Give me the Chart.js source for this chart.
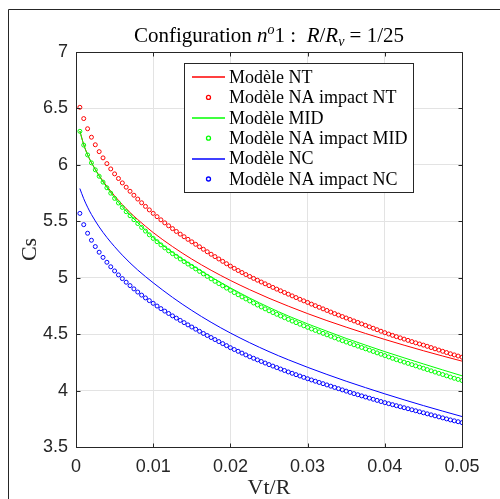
<!DOCTYPE html>
<html>
<head>
<meta charset="utf-8">
<script src="https://cdn.jsdelivr.net/npm/chart.js@4.4.1/dist/chart.umd.min.js"></script>
<style>
  html, body { margin: 0; padding: 0; background: #fff; }
  #wrap { width: 500px; height: 499px; position: relative; }
</style>
</head>
<body>
<div id="wrap"><canvas id="chart" width="500" height="499"></canvas></div>
<script>
// Vt/R sample positions of the impact (marker) series
const markerX = [
  0.0005, 0.0010, 0.0015, 0.0020, 0.0025, 0.0030, 0.0035, 0.0040, 0.0045, 0.0050,
  0.0055, 0.0060, 0.0065, 0.0070, 0.0075, 0.0080, 0.0085, 0.0090, 0.0095, 0.0100,
  0.0105, 0.0110, 0.0115, 0.0120, 0.0125, 0.0130, 0.0135, 0.0140, 0.0145, 0.0150,
  0.0155, 0.0160, 0.0165, 0.0170, 0.0175, 0.0180, 0.0185, 0.0190, 0.0195, 0.0200,
  0.0205, 0.0210, 0.0215, 0.0220, 0.0225, 0.0230, 0.0235, 0.0240, 0.0245, 0.0250,
  0.0255, 0.0260, 0.0265, 0.0270, 0.0275, 0.0280, 0.0285, 0.0290, 0.0295, 0.0300,
  0.0305, 0.0310, 0.0315, 0.0320, 0.0325, 0.0330, 0.0335, 0.0340, 0.0345, 0.0350,
  0.0355, 0.0360, 0.0365, 0.0370, 0.0375, 0.0380, 0.0385, 0.0390, 0.0395, 0.0400,
  0.0405, 0.0410, 0.0415, 0.0420, 0.0425, 0.0430, 0.0435, 0.0440, 0.0445, 0.0450,
  0.0455, 0.0460, 0.0465, 0.0470, 0.0475, 0.0480, 0.0485, 0.0490, 0.0495, 0.0500
];

const impactNT = [
  6.510, 6.410, 6.320, 6.245, 6.178, 6.117, 6.062, 6.011, 5.964, 5.920,
  5.879, 5.840, 5.802, 5.766, 5.731, 5.697, 5.664, 5.632, 5.601, 5.570,
  5.541, 5.513, 5.486, 5.460, 5.435, 5.410, 5.386, 5.363, 5.340, 5.318,
  5.296, 5.274, 5.252, 5.230, 5.208, 5.187, 5.166, 5.145, 5.124, 5.103,
  5.083, 5.064, 5.046, 5.028, 5.011, 4.994, 4.978, 4.962, 4.946, 4.930,
  4.914, 4.899, 4.884, 4.869, 4.854, 4.839, 4.824, 4.809, 4.795, 4.781,
  4.766, 4.752, 4.738, 4.724, 4.710, 4.696, 4.682, 4.669, 4.656, 4.643,
  4.630, 4.617, 4.604, 4.591, 4.578, 4.565, 4.552, 4.539, 4.526, 4.513,
  4.501, 4.489, 4.478, 4.467, 4.456, 4.445, 4.434, 4.423, 4.413, 4.403,
  4.392, 4.381, 4.370, 4.359, 4.348, 4.337, 4.326, 4.316, 4.306, 4.296
];

const impactMID = [
  6.297, 6.175, 6.088, 6.018, 5.956, 5.899, 5.847, 5.797, 5.749, 5.703,
  5.662, 5.623, 5.585, 5.549, 5.514, 5.480, 5.446, 5.413, 5.380, 5.348,
  5.319, 5.291, 5.264, 5.238, 5.213, 5.189, 5.166, 5.143, 5.121, 5.100,
  5.078, 5.056, 5.034, 5.012, 4.990, 4.968, 4.948, 4.928, 4.908, 4.888,
  4.868, 4.849, 4.830, 4.812, 4.794, 4.776, 4.758, 4.741, 4.724, 4.707,
  4.691, 4.676, 4.661, 4.646, 4.631, 4.616, 4.602, 4.588, 4.574, 4.560,
  4.546, 4.533, 4.520, 4.507, 4.494, 4.481, 4.468, 4.455, 4.442, 4.430,
  4.418, 4.406, 4.394, 4.382, 4.370, 4.358, 4.346, 4.334, 4.322, 4.310,
  4.298, 4.286, 4.274, 4.263, 4.252, 4.241, 4.230, 4.219, 4.208, 4.197,
  4.186, 4.175, 4.164, 4.153, 4.142, 4.131, 4.120, 4.109, 4.099, 4.089
];

const impactNC = [
  5.570, 5.470, 5.394, 5.332, 5.276, 5.226, 5.180, 5.137, 5.097, 5.060,
  5.025, 4.992, 4.960, 4.930, 4.901, 4.873, 4.846, 4.821, 4.797, 4.773,
  4.749, 4.726, 4.704, 4.683, 4.662, 4.642, 4.622, 4.602, 4.582, 4.563,
  4.544, 4.525, 4.506, 4.488, 4.470, 4.452, 4.434, 4.416, 4.398, 4.380,
  4.364, 4.348, 4.332, 4.316, 4.300, 4.286, 4.272, 4.258, 4.244, 4.230,
  4.217, 4.204, 4.191, 4.178, 4.165, 4.153, 4.141, 4.129, 4.117, 4.105,
  4.094, 4.083, 4.072, 4.061, 4.050, 4.039, 4.028, 4.017, 4.006, 3.995,
  3.984, 3.973, 3.963, 3.953, 3.943, 3.933, 3.923, 3.913, 3.903, 3.893,
  3.884, 3.875, 3.866, 3.857, 3.848, 3.839, 3.830, 3.821, 3.812, 3.803,
  3.794, 3.785, 3.776, 3.767, 3.758, 3.749, 3.740, 3.732, 3.724, 3.716
];

// Vt/R positions of the continuous model curves
const lineX = [
  0.0005, 0.001, 0.0015, 0.002, 0.003, 0.004, 0.005, 0.006, 0.007, 0.008,
  0.009, 0.010, 0.0125, 0.015, 0.0175, 0.020, 0.0225, 0.025, 0.0275, 0.030,
  0.0325, 0.035, 0.0375, 0.040, 0.0425, 0.045, 0.0475, 0.050
];

const modelNT = [
  6.300, 6.180, 6.090, 6.020, 5.905, 5.810, 5.725, 5.648, 5.578, 5.515,
  5.456, 5.400, 5.276, 5.165, 5.066, 4.976, 4.894, 4.818, 4.748, 4.682,
  4.620, 4.562, 4.506, 4.453, 4.402, 4.353, 4.306, 4.261
];

const modelMID = [
  6.300, 6.178, 6.090, 6.020, 5.900, 5.800, 5.708, 5.628, 5.555, 5.487,
  5.421, 5.357, 5.225, 5.112, 5.007, 4.910, 4.820, 4.737, 4.661, 4.591,
  4.526, 4.462, 4.403, 4.345, 4.290, 4.236, 4.183, 4.131
];

const modelNC = [
  5.790, 5.700, 5.625, 5.560, 5.450, 5.357, 5.275, 5.200, 5.131, 5.068,
  5.010, 4.955, 4.826, 4.710, 4.605, 4.510, 4.424, 4.345, 4.273, 4.206,
  4.143, 4.083, 4.026, 3.971, 3.918, 3.867, 3.818, 3.770
];

const seriesNames = [
  'Modèle NT', 'Modèle NA impact NT',
  'Modèle MID', 'Modèle NA impact MID',
  'Modèle NC', 'Modèle NA impact NC'
];
const seriesColors = ['#ff0000', '#ff0000', '#00ff00', '#00ff00', '#0000ff', '#0000ff'];

const xTicks = [0, 0.01, 0.02, 0.03, 0.04, 0.05];
const yTicks = [3.5, 4, 4.5, 5, 5.5, 6, 6.5, 7];

const AXIS = '#262626';
const SERIF = '"Liberation Serif", "Times New Roman", serif';
const SANS = '"Liberation Sans", Arial, sans-serif';

function toPts(xs, ys) {
  return xs.map((x, i) => ({ x: x, y: ys[i] }));
}

function lineSet(i, ys) {
  return {
    label: seriesNames[i],
    data: toPts(lineX, ys),
    borderColor: seriesColors[i],
    borderWidth: 1,
    pointRadius: 0,
    fill: false,
    cubicInterpolationMode: 'monotone',
    order: 6 - i
  };
}

function markerSet(i, ys) {
  return {
    label: seriesNames[i],
    data: toPts(markerX, ys),
    showLine: false,
    borderColor: seriesColors[i],
    backgroundColor: 'rgba(0,0,0,0)',
    pointStyle: 'circle',
    pointRadius: 2,
    pointBorderWidth: 1,
    pointBorderColor: seriesColors[i],
    pointBackgroundColor: 'rgba(0,0,0,0)',
    order: 6 - i
  };
}

// figure frame, title and axis titles
const decorPlugin = {
  id: 'decor',
  afterDraw(chart) {
    const ctx = chart.ctx;
    const a = chart.chartArea;
    ctx.save();
    ctx.strokeStyle = AXIS;
    ctx.lineWidth = 1;
    ctx.beginPath();
    ctx.moveTo(8.5, 499);
    ctx.lineTo(8.5, 9.5);
    ctx.lineTo(500, 9.5);
    ctx.stroke();

    // title: Configuration n^o1 : R/R_v = 1/25
    const runs = [
      { t: 'Configuration ', f: '21px ' + SERIF, dy: 0 },
      { t: 'n', f: 'italic 21px ' + SERIF, dy: 0 },
      { t: 'o', f: 'italic 14px ' + SERIF, dy: -8 },
      { t: '1 :  ', f: '21px ' + SERIF, dy: 0 },
      { t: 'R', f: 'italic 21px ' + SERIF, dy: 0 },
      { t: '/', f: '21px ' + SERIF, dy: 0 },
      { t: 'R', f: 'italic 21px ' + SERIF, dy: 0 },
      { t: 'v', f: 'italic 14px ' + SERIF, dy: 4 },
      { t: ' = 1/25', f: '21px ' + SERIF, dy: 0 }
    ];
    let total = 0;
    runs.forEach(r => { ctx.font = r.f; r.w = ctx.measureText(r.t).width; total += r.w; });
    let x = (a.left + a.right) / 2 - total / 2;
    ctx.fillStyle = '#000';
    ctx.textBaseline = 'alphabetic';
    ctx.textAlign = 'left';
    runs.forEach(r => { ctx.font = r.f; ctx.fillText(r.t, x, 41.5 + r.dy); x += r.w; });

    // axis titles
    ctx.fillStyle = AXIS;
    ctx.textAlign = 'center';
    ctx.textBaseline = 'middle';
    ctx.font = '22px ' + SERIF;
    ctx.fillText('Vt/R', (a.left + a.right) / 2, 488);
    ctx.translate(30, (a.top + a.bottom) / 2);
    ctx.rotate(-Math.PI / 2);
    ctx.fillText('Cs', 0, 0);
    ctx.restore();
  }
};

// MATLAB-like box with inward ticks on all four sides
const boxPlugin = {
  id: 'box',
  afterDatasetsDraw(chart) {
    const ctx = chart.ctx;
    const a = chart.chartArea;
    const xs = chart.scales.x, ys = chart.scales.y;
    const L = Math.round(a.left) + 0.5, R = Math.round(a.right) + 0.5;
    const T = Math.round(a.top) + 0.5, B = Math.round(a.bottom) + 0.5;
    ctx.save();
    ctx.strokeStyle = AXIS;
    ctx.lineWidth = 1;
    ctx.beginPath();
    ctx.rect(L, T, R - L, B - T);
    xTicks.forEach(v => {
      const px = Math.round(xs.getPixelForValue(v)) + 0.5;
      ctx.moveTo(px, B); ctx.lineTo(px, B - 4);
      ctx.moveTo(px, T); ctx.lineTo(px, T + 4);
    });
    yTicks.forEach(v => {
      const py = Math.round(ys.getPixelForValue(v)) + 0.5;
      ctx.moveTo(L, py); ctx.lineTo(L + 4, py);
      ctx.moveTo(R, py); ctx.lineTo(R - 4, py);
    });
    ctx.stroke();
    ctx.restore();
  }
};

// legend box inside the axes, upper right
const legendPlugin = {
  id: 'boxLegend',
  afterDatasetsDraw(chart) {
    const ctx = chart.ctx;
    const x0 = 184.5, y0 = 63.5, w = 229, h = 129;
    ctx.save();
    ctx.fillStyle = '#fff';
    ctx.fillRect(x0, y0, w, h);
    ctx.strokeStyle = AXIS;
    ctx.lineWidth = 1;
    ctx.strokeRect(x0, y0, w, h);
    ctx.font = '18px ' + SERIF;
    ctx.textBaseline = 'middle';
    ctx.textAlign = 'left';
    seriesNames.forEach((name, i) => {
      const y = 77 + i * 20.4;
      const col = seriesColors[i];
      ctx.strokeStyle = col;
      ctx.lineWidth = 1.3;
      ctx.beginPath();
      if (i % 2 === 0) {
        ctx.moveTo(192, Math.round(y));
        ctx.lineTo(225, Math.round(y));
      } else {
        ctx.arc(208.5, y, 2, 0, Math.PI * 2);
      }
      ctx.stroke();
      ctx.fillStyle = '#000';
      ctx.fillText(name, 229, y + 1);
    });
    ctx.restore();
  }
};

new Chart(document.getElementById('chart'), {
  type: 'line',
  data: {
    datasets: [
      lineSet(0, modelNT),
      markerSet(1, impactNT),
      lineSet(2, modelMID),
      markerSet(3, impactMID),
      lineSet(4, modelNC),
      markerSet(5, impactNC)
    ]
  },
  options: {
    responsive: false,
    devicePixelRatio: 1,
    animation: false,
    layout: { padding: { left: 0, right: 38, top: 52, bottom: 0 } },
    plugins: {
      legend: { display: false },
      title: { display: false },
      tooltip: { enabled: false }
    },
    scales: {
      x: {
        type: 'linear',
        min: 0,
        max: 0.05,
        afterFit: s => { s.height = 52; },
        afterBuildTicks: s => { s.ticks = xTicks.map(v => ({ value: v })); },
        grid: { color: '#e3e3e3', drawTicks: false },
        border: { display: true, color: AXIS, width: 1 },
        ticks: {
          padding: 9,
          color: AXIS,
          font: { family: SANS, size: 18 },
          maxRotation: 0,
          callback: v => String(+v.toFixed(2))
        }
      },
      y: {
        type: 'linear',
        min: 3.5,
        max: 7,
        afterFit: s => { s.width = 76; },
        afterBuildTicks: s => { s.ticks = yTicks.map(v => ({ value: v })); },
        grid: { color: '#e3e3e3', drawTicks: false },
        border: { display: true, color: AXIS, width: 1 },
        ticks: {
          padding: 8,
          color: AXIS,
          font: { family: SANS, size: 18 },
          callback: v => String(+v.toFixed(1))
        }
      }
    }
  },
  plugins: [decorPlugin, boxPlugin, legendPlugin]
});
</script>
</body>
</html>
